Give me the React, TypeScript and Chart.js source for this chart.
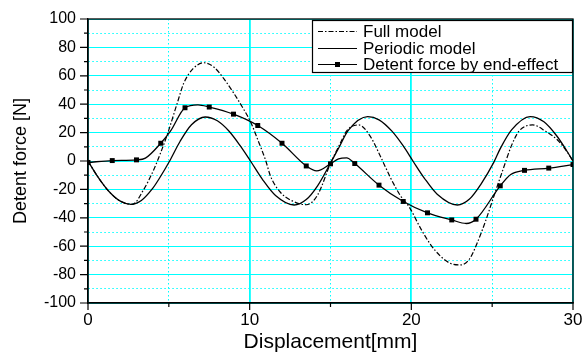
import React, { useEffect, useRef } from "react";
import { Chart, registerables } from "chart.js";

Chart.register(...registerables);

// ---- data ----
const seriesLabels = ["Full model", "Periodic model", "Detent force by end-effect"];
const xTitle = "Displacement[mm]";
const yTitle = "Detent force [N]";

const periodicX = [0, 0.6, 1.3, 2.0, 2.65, 3.3, 4.0, 4.4, 5.05, 5.7, 6.4, 7.25, 8.0, 8.7, 9.4, 10.05, 10.8, 11.6, 12.75, 13.5, 14.2, 15.0, 15.5, 16.1, 17.3, 18.0, 18.8, 19.5, 20.1, 20.8, 21.6, 22.85, 23.6, 24.3, 25.1, 25.5, 26.2, 27.35, 28.2, 29.0, 29.6, 30];
const periodicY = [0, -11, -21.5, -28.3, -30.5, -27.8, -19.3, -12.5, 0, 13.9, 25.5, 31, 28.3, 21.3, 11, 0, -13.1, -24.3, -31, -27.2, -17.5, -1.5, 9, 21.5, 31.2, 29, 21, 10.6, 0, -12, -23.4, -31, -26.8, -16.4, -1, 8.7, 21.9, 31.3, 27.6, 17.6, 7.4, 0];

const fullX = [0, 0.6, 1.3, 2.0, 2.75, 3.4, 4.06, 4.5, 4.93, 5.5, 5.92, 6.5, 7.16, 7.8, 8.4, 9.02, 9.6, 10.05, 10.5, 10.98, 11.3, 11.9, 12.53, 13.5, 14.2, 15.0, 15.5, 16.04, 16.75, 17.48, 18.1, 18.72, 19.3, 19.9, 20.6, 21.2, 21.8, 22.4, 23.05, 23.6, 24.1, 24.6, 25.1, 25.7, 26.2, 26.66, 27.5, 28.3, 29.04, 29.6, 30];
const fullY = [0, -11, -21.5, -28.3, -30.5, -21, -6.3, 6, 19.5, 40, 54.7, 65, 69.2, 66, 58, 47.7, 37, 27.7, 15, 0.7, -11, -22, -27.5, -30.8, -24, -1.6, 10, 21.8, 25.4, 17, 3, -12, -24, -33, -48, -59, -67, -72, -73.2, -69, -57, -42, -25, -5, 11, 21, 25.4, 21, 14.8, 7, 0];

const endX = [0, 1.5, 3, 3.55, 4.5, 5.1, 6, 6.8, 7.5, 9, 10.5, 12, 13.5, 14.15, 15, 15.5, 16, 16.5, 18, 19.5, 21, 22.5, 23.4, 24, 25.5, 26.15, 27, 28.5, 30];
const endY = [-1, 0.3, 0.8, 2, 12.5, 21, 37.5, 39.5, 38, 33, 25, 12.5, -3.5, -7, -2, 1.5, 2.2, -1.8, -17, -28.5, -36.5, -41.5, -44, -41, -17.5, -9.5, -6.6, -5, -2.5];
const endMarkerX = [0, 1.5, 3, 4.5, 6, 7.5, 9, 10.5, 12, 13.5, 15, 16.5, 18, 19.5, 21, 22.5, 24, 25.5, 27, 28.5, 30];

const xMin = 0, xMax = 30, xStep = 5, xLabelStep = 10;
const yMin = -100, yMax = 100, yStep = 10, yLabelStep = 20;

const FONT = "'Liberation Sans', Arial, Helvetica, sans-serif";
const CYAN = "#00ffff";
const FULL_DASH = [5, 2, 1.5, 2];

const zip = (xs: number[], ys: number[]) => xs.map((x, i) => ({ x, y: ys[i] }));
const isMul = (v: number, s: number) => Math.abs(v / s - Math.round(v / s)) < 1e-6;

const decorPlugin = {
  id: "decor",
  afterDraw(chart: any) {
    const { ctx, chartArea: a, scales } = chart;
    const xs = scales.x, ys = scales.y;
    ctx.save();
    // frame
    ctx.strokeStyle = "#000";
    ctx.lineWidth = 1.3;
    ctx.setLineDash([]);
    ctx.strokeRect(a.left, a.top, a.right - a.left, a.bottom - a.top);
    // tick marks
    ctx.beginPath();
    ctx.lineWidth = 1.2;
    for (const t of ys.ticks) {
      const p = ys.getPixelForValue(t.value);
      const len = isMul(t.value, yLabelStep) ? 8 : 4;
      ctx.moveTo(a.left - len, p);
      ctx.lineTo(a.left, p);
    }
    for (const t of xs.ticks) {
      const p = xs.getPixelForValue(t.value);
      const len = isMul(t.value, xLabelStep) ? 7 : 4;
      ctx.moveTo(p, a.bottom);
      ctx.lineTo(p, a.bottom + len);
    }
    ctx.stroke();

    // legend box
    const bw = 261, bh = 53;
    const bx = a.right - bw, by = a.top + 1;
    ctx.fillStyle = "#fff";
    ctx.fillRect(bx, by, bw, bh);
    ctx.strokeStyle = "#000";
    ctx.lineWidth = 1.2;
    ctx.strokeRect(bx + 0.5, by + 0.5, bw - 1, bh - 1);
    const rows = [by + 11.5, by + 28.5, by + 44.5];
    ctx.font = `17px ${FONT}`;
    ctx.textBaseline = "middle";
    ctx.textAlign = "left";
    chart.data.datasets.forEach((ds: any, i: number) => {
      const y = rows[i];
      ctx.beginPath();
      ctx.strokeStyle = "#000";
      ctx.lineWidth = 1.2;
      ctx.setLineDash(ds.borderDash || []);
      ctx.moveTo(bx + 6, y);
      ctx.lineTo(bx + 45, y);
      ctx.stroke();
      ctx.setLineDash([]);
      if (i === 2) {
        ctx.fillStyle = "#000";
        ctx.fillRect(bx + 25.5 - 2.5, y - 2.5, 5, 5);
      }
      ctx.fillStyle = "#000";
      ctx.fillText(ds.label, bx + 51, y + 1);
    });
    ctx.restore();
  },
};

export default function App() {
  const ref = useRef<HTMLCanvasElement | null>(null);

  useEffect(() => {
    if (!ref.current) return;
    const chart = new Chart(ref.current, {
      type: "line",
      data: {
        datasets: [
          {
            label: seriesLabels[0],
            data: zip(fullX, fullY),
            borderColor: "#000",
            borderWidth: 1.2,
            borderDash: FULL_DASH,
            pointRadius: 0,
            cubicInterpolationMode: "monotone",
            fill: false,
          },
          {
            label: seriesLabels[1],
            data: zip(periodicX, periodicY),
            borderColor: "#000",
            borderWidth: 1.3,
            pointRadius: 0,
            cubicInterpolationMode: "monotone",
            fill: false,
          },
          {
            label: seriesLabels[2],
            data: zip(endX, endY),
            borderColor: "#000",
            borderWidth: 1.3,
            backgroundColor: "#000",
            pointStyle: "rect",
            pointRadius: (c: any) =>
              c.raw && endMarkerX.some((m) => Math.abs(m - c.raw.x) < 1e-6) ? 3.5 : 0,
            pointBorderWidth: 0,
            pointBackgroundColor: "#000",
            cubicInterpolationMode: "monotone",
            fill: false,
          },
        ],
      },
      options: {
        responsive: false,
        animation: false,
        events: [],
        layout: { padding: { top: 19, right: 11, left: 0, bottom: 0 } },
        plugins: {
          legend: { display: false },
          tooltip: { enabled: false },
        },
        scales: {
          x: {
            type: "linear",
            min: xMin,
            max: xMax,
            afterFit: (s: any) => {
              s.height = 51;
              s.paddingLeft = 0;
              s.paddingRight = 0;
            },
            ticks: {
              stepSize: xStep,
              autoSkip: false,
              maxRotation: 0,
              padding: 7,
              color: "#000",
              font: { family: FONT, size: 17 },
              callback: (v: any) => (isMul(Number(v), xLabelStep) ? String(v) : ""),
            },
            grid: {
              color: CYAN,
              lineWidth: (c: any) => (c.tick && isMul(c.tick.value, xLabelStep) ? 1.8 : 1),
              drawTicks: false,
            },
            border: {
              display: true,
              color: "#000",
              width: 1.3,
              dash: (c: any) => (c.tick && !isMul(c.tick.value, xLabelStep) ? [1.5, 2.5] : []),
            },
            title: {
              display: true,
              text: xTitle,
              color: "#000",
              font: { family: FONT, size: 21, lineHeight: 1.1 },
              padding: { top: 0, bottom: 0 },
            },
          },
          y: {
            type: "linear",
            min: yMin,
            max: yMax,
            afterFit: (s: any) => {
              s.width = 88;
              s.paddingTop = 0;
              s.paddingBottom = 0;
            },
            ticks: {
              stepSize: yStep,
              autoSkip: false,
              padding: 12,
              color: "#000",
              font: { family: FONT, size: 16 },
              callback: (v: any) => (isMul(Number(v), yLabelStep) ? String(v) : ""),
            },
            grid: {
              color: CYAN,
              lineWidth: 1,
              drawTicks: false,
            },
            border: {
              display: true,
              color: "#000",
              width: 1.3,
              dash: (c: any) => (c.tick && !isMul(c.tick.value, yLabelStep) ? [1.5, 2.5] : []),
            },
            title: {
              display: true,
              text: yTitle,
              color: "#000",
              font: { family: FONT, size: 18 },
              padding: { top: 10, bottom: 0 },
            },
          },
        },
      },
      plugins: [decorPlugin],
    } as any);
    return () => chart.destroy();
  }, []);

  return (
    <div style={{ position: "absolute", left: 0, top: 0, width: 584, height: 354, background: "#fff" }}>
      <canvas ref={ref} width={584} height={354} style={{ display: "block" }} />
    </div>
  );
}
